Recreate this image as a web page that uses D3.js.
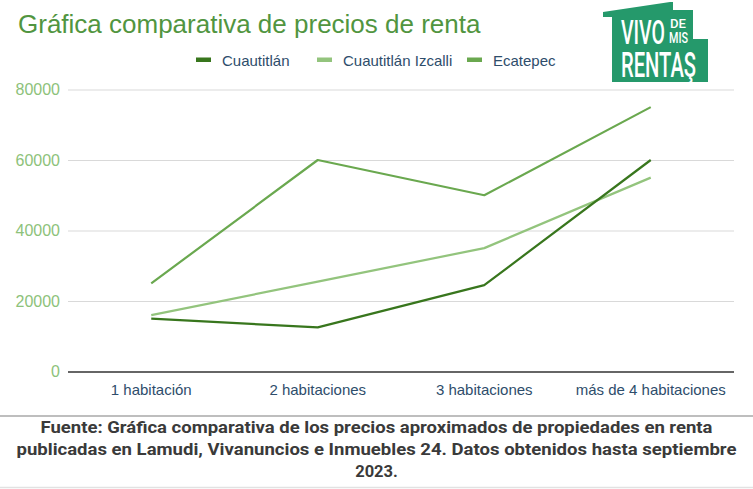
<!DOCTYPE html>
<html>
<head>
<meta charset="utf-8">
<script src="https://cdn.jsdelivr.net/npm/d3@7"></script>
<style>
  body { margin: 0; background: #fff; }
  svg { display: block; font-family: "Liberation Sans", Arial, sans-serif; }
</style>
</head>
<body>
<div id="chart"></div>
<script>
// chart data
const categories = ["1 habitación", "2 habitaciones", "3 habitaciones", "más de 4 habitaciones"];
const seriesNames = ["Cuautitlán", "Cuautitlán Izcalli", "Ecatepec"];
const cuautitlan = [15000, 12500, 24500, 60000];
const izcalli = [16000, 25500, 35000, 55000];
const ecatepec = [25000, 60000, 50000, 75000];
const yTicks = [0, 20000, 40000, 60000, 80000];
const footerLines = [
  "Fuente: Gráfica comparativa de los precios aproximados de propiedades en renta",
  "publicadas en Lamudi, Vivanuncios e Inmuebles 24. Datos obtenidos hasta septiembre",
  "2023."
];

const colors = ["#38761d", "#93c47d", "#6aa84f"];
const series = [cuautitlan, izcalli, ecatepec];

const W = 753, H = 489;
const svg = d3.select("#chart").append("svg")
    .attr("width", W)
    .attr("height", H);

// scales
const x = d3.scaleBand()
    .domain(categories)
    .range([68, 734]);

const y = d3.scaleLinear()
    .domain([0, 80000])
    .range([371.5, 89.5]);

// title
svg.append("text")
    .attr("x", 18)
    .attr("y", 33)
    .attr("font-size", 26)
    .attr("fill", "#519540")
    .text("Gráfica comparativa de precios de renta");

// legend
const legendX = [196, 317, 467];
const legend = svg.append("g");
seriesNames.forEach(function(name, i) {
    legend.append("rect")
        .attr("x", legendX[i])
        .attr("y", 57.5)
        .attr("width", 15)
        .attr("height", 4.5)
        .attr("fill", colors[i]);
    legend.append("text")
        .attr("x", legendX[i] + 26)
        .attr("y", 65.5)
        .attr("font-size", 15)
        .attr("fill", "#2e4d6b")
        .text(name);
});

// gridlines + y labels
const yAxis = svg.append("g")
    .attr("transform", "translate(68,0)")
    .call(d3.axisLeft(y)
        .tickValues(yTicks)
        .tickSize(-(734 - 68))
        .tickPadding(8)
        .tickFormat(d3.format("d")));
yAxis.select(".domain").remove();
yAxis.selectAll(".tick line")
    .attr("stroke", function(d) { return d === 0 ? "#333" : "#d9d9d9"; })
    .attr("stroke-width", function(d) { return d === 0 ? 1.6 : 1.2; });
yAxis.selectAll(".tick text")
    .attr("font-size", 16)
    .attr("font-family", "Liberation Sans, Arial, sans-serif")
    .attr("fill", "#8dc27a");

// x labels
const xAxis = svg.append("g")
    .attr("transform", "translate(0,372)")
    .call(d3.axisBottom(x).tickSize(0).tickPadding(12));
xAxis.select(".domain").remove();
xAxis.selectAll(".tick text")
    .attr("font-size", 15)
    .attr("font-family", "Liberation Sans, Arial, sans-serif")
    .attr("fill", "#2e4d6b");

// lines
const line = d3.line()
    .x(function(d, i) { return x(categories[i]) + x.bandwidth() / 2; })
    .y(function(d) { return y(d); });

// draw Ecatepec first, then Izcalli, then Cuautitlán on top
[2, 1, 0].forEach(function(i) {
    svg.append("path")
        .datum(series[i])
        .attr("fill", "none")
        .attr("stroke", colors[i])
        .attr("stroke-width", 2.2)
        .attr("stroke-linejoin", "round")
        .attr("d", line);
});

// logo (house shape with white lettering)
const logo = svg.append("g");
logo.append("path")
    .attr("d", "M603,12 L670,2 L673,2 L673,10 L693,10 L693,39 L708,39 L708,82 L612,82 L612,17 L603,17 Z")
    .attr("fill", "#25996b");
const logoText = [
    {t: "VIVO", x: 621, y: 44, s: 34, w: 44},
    {t: "DE", x: 670, y: 28, s: 13, w: 16},
    {t: "MIS", x: 669, y: 43, s: 14, w: 19},
    {t: "RENTAŞ", x: 621, y: 77, s: 35, w: 75}
];
logoText.forEach(function(d) {
    logo.append("text")
        .attr("x", d.x)
        .attr("y", d.y)
        .attr("font-family", "Roboto, sans-serif")
        .attr("font-weight", 500)
        .attr("font-size", d.s)
        .attr("fill", "#fff")
        .attr("textLength", d.w)
        .attr("lengthAdjust", "spacingAndGlyphs")
        .text(d.t);
});

// footer
svg.append("line")
    .attr("x1", 0).attr("x2", W)
    .attr("y1", 416).attr("y2", 416)
    .attr("stroke", "#a8a8a8")
    .attr("stroke-width", 1.5);
svg.append("line")
    .attr("x1", 0).attr("x2", W)
    .attr("y1", 487.5).attr("y2", 487.5)
    .attr("stroke", "#e2e2e2")
    .attr("stroke-width", 1.5);

const footerWidths = [672, 720, null];
footerLines.forEach(function(t, i) {
    const txt = svg.append("text")
        .attr("x", W / 2)
        .attr("y", 433 + i * 22)
        .attr("text-anchor", "middle")
        .attr("font-family", "Roboto, sans-serif")
        .attr("font-weight", 700)
        .attr("font-size", 16.5)
        .attr("fill", "#3a3a3a")
        .text(t);
    if (footerWidths[i]) {
        txt.attr("textLength", footerWidths[i]).attr("lengthAdjust", "spacingAndGlyphs");
    }
});
</script>
</body>
</html>
